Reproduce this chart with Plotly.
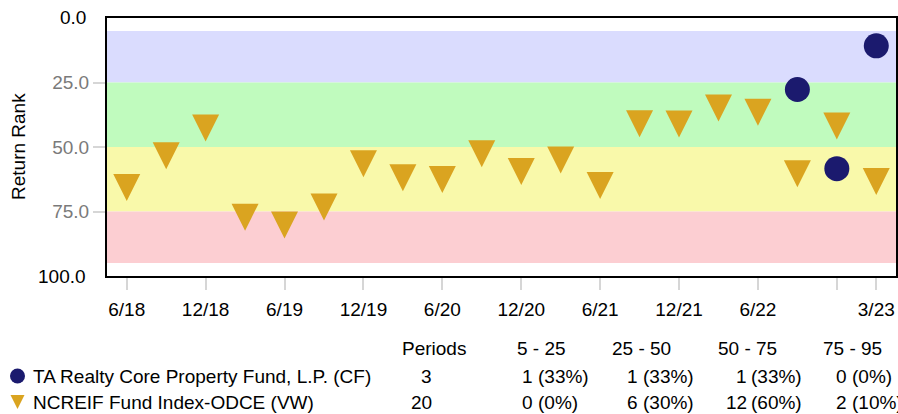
import plotly.graph_objects as go

# ---- data -------------------------------------------------------------
quarters = ["6/18", "9/18", "12/18", "3/19", "6/19", "9/19", "12/19", "3/20",
            "6/20", "9/20", "12/20", "3/21", "6/21", "9/21", "12/21", "3/22",
            "6/22", "9/22", "12/22", "3/23"]

fund_name = "TA Realty Core Property Fund, L.P. (CF)"
fund_rank = [None] * 17 + [27.7, 58.4, 10.8]

index_name = "NCREIF Fund Index-ODCE (VW)"
index_rank = [65.7, 53.4, 42.6, 77.2, 80.2, 73.3, 56.5, 61.9, 62.6, 52.6,
              59.5, 55.0, 64.9, 41.0, 41.1, 34.9, 36.5, 60.4, 41.9, 63.4]

tick_quarters = ["6/18", "12/18", "6/19", "12/19", "6/20", "12/20", "6/21",
                 "12/21", "6/22", "12/22", "3/23"]
tick_text = ["6/18", "12/18", "6/19", "12/19", "6/20", "12/20", "6/21",
             "12/21", "6/22", "", "3/23"]

band_edges = [5, 25, 50, 75, 95]
band_labels = ["5 - 25", "25 - 50", "50 - 75", "75 - 95"]
band_colors = ["#dadcfe", "#c0fbbe", "#f9f9aa", "#fcced2"]

# ---- styling ----------------------------------------------------------
W, H = 898, 414
FONT = "Liberation Sans, Arial, sans-serif"
FS = 19
NAVY = "#1b1a6e"
GOLD = "#daa420"

# plot frame in pixels
PL, PR, PT, PB = 107, 896, 18, 276


def px(x):
    return x / W


def py(y):
    return 1 - y / H


fig = go.Figure()

fig.add_trace(go.Scatter(
    x=quarters, y=fund_rank, mode="markers", name=fund_name,
    marker=dict(symbol="circle", size=25, color=NAVY),
    xaxis="x", yaxis="y", showlegend=False, cliponaxis=False,
))
fig.add_trace(go.Scatter(
    x=quarters, y=index_rank, mode="markers", name=index_name,
    marker=dict(symbol="arrow-down", size=27, standoff=13.5, color=GOLD),
    xaxis="x", yaxis="y", showlegend=False, cliponaxis=False,
))

# rank bands
for lo, hi, col in zip(band_edges[:-1], band_edges[1:], band_colors):
    fig.add_shape(type="rect", xref="x domain", yref="y", x0=0, x1=1,
                  y0=lo, y1=hi, fillcolor=col, line_width=0, layer="below")

# ---- summary table under the chart -----------------------------------
def band_counts(values):
    vals = [v for v in values if v is not None]
    counts = []
    for i, (lo, hi) in enumerate(zip(band_edges[:-1], band_edges[1:])):
        last = i == len(band_edges) - 2
        counts.append(sum(1 for v in vals if lo <= v < hi or (last and v == hi)))
    return len(vals), counts


anns = []
txt = dict(family=FONT, size=FS, color="#000000")

HEAD_Y, ROW_Y = 348, [376, 402]
PERIODS_X = 434
PERIODS_RIGHT = 433
COL_CENTER = [541, 641, 747, 852]
COL_NUM_RIGHT = [534, 639, 747.5, 848]

anns.append(dict(text="Periods", x=px(PERIODS_X), y=py(HEAD_Y),
                 xanchor="center", yanchor="middle"))
for lab, cx in zip(band_labels, COL_CENTER):
    anns.append(dict(text=lab, x=px(cx), y=py(HEAD_Y),
                     xanchor="center", yanchor="middle"))

rows = [(fund_name, fund_rank, "circle", NAVY),
        (index_name, index_rank, "arrow-down", GOLD)]
for (name, values, sym, col), ry in zip(rows, ROW_Y):
    n, counts = band_counts(values)
    anns.append(dict(text=name, x=px(32), y=py(ry),
                     xanchor="left", yanchor="middle"))
    anns.append(dict(text=str(n), x=px(PERIODS_RIGHT), y=py(ry),
                     xanchor="right", yanchor="middle"))
    for c, nr in zip(counts, COL_NUM_RIGHT):
        pct = round(100 * c / n)
        anns.append(dict(text=str(c), x=px(nr), y=py(ry),
                         xanchor="right", yanchor="middle"))
        anns.append(dict(text=f"({pct}%)", x=px(nr + 2.5), y=py(ry),
                         xanchor="left", yanchor="middle"))
    # legend glyph on a full-page pixel axis
    marker = dict(symbol=sym, color=col, size=15 if sym == "circle" else 14)
    if sym == "arrow-down":
        marker["standoff"] = 7
    fig.add_trace(go.Scatter(
        x=[17.5], y=[ry], mode="markers", marker=marker,
        xaxis="x2", yaxis="y2", showlegend=False, hoverinfo="skip",
    ))

# y-axis end labels and title
anns.append(dict(text="0.0", x=px(87), y=0, xref="paper", yref="y",
                 xanchor="right", yanchor="middle"))
anns.append(dict(text="100.0", x=px(87), y=100, xref="paper", yref="y",
                 xanchor="right", yanchor="middle"))
anns.append(dict(text="Return Rank", x=px(18), y=py((PT + PB) / 2),
                 textangle=-90, xanchor="center", yanchor="middle"))

for a in anns:
    a.setdefault("xref", "paper")
    a.setdefault("yref", "paper")
    a.update(showarrow=False, font=txt, borderpad=0)

fig.update_layout(
    width=W, height=H, autosize=False,
    margin=dict(l=0, r=0, t=0, b=0),
    paper_bgcolor="white", plot_bgcolor="rgba(0,0,0,0)",
    font=dict(family=FONT, size=FS, color="#000000"),
    annotations=anns,
    xaxis=dict(
        domain=[px(PL), px(PR)], type="category", categoryorder="array",
        categoryarray=quarters, range=[-0.5, len(quarters) - 0.5],
        tickvals=tick_quarters, ticktext=tick_text,
        ticks="outside", ticklen=12, tickwidth=2, tickcolor="#d6d6d6",
        ticklabelstandoff=3,
        tickfont=dict(family=FONT, size=FS, color="#000000"),
        showline=True, mirror=True, linecolor="#000000", linewidth=2,
        showgrid=False, zeroline=False, fixedrange=True,
    ),
    yaxis=dict(
        domain=[py(PB), py(PT)], range=[100, 0], autorange=False,
        tickvals=[25, 50, 75], ticktext=["25.0", "50.0", "75.0"],
        ticks="outside", ticklen=12, tickwidth=2, tickcolor="#d6d6d6",
        tickfont=dict(family=FONT, size=FS, color="#7a7a7a"),
        showline=True, mirror=True, linecolor="#000000", linewidth=2,
        showgrid=False, zeroline=False, fixedrange=True,
    ),
    xaxis2=dict(domain=[0, 1], range=[0, W], visible=False, anchor="y2",
                fixedrange=True),
    yaxis2=dict(domain=[0, 1], range=[H, 0], autorange=False, visible=False,
                anchor="x2", fixedrange=True),
)

fig.write_html("out.html")
